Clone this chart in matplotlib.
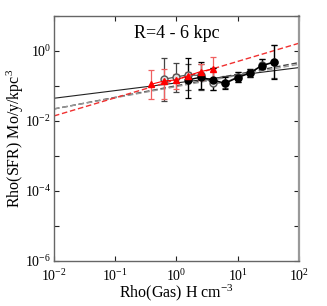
import numpy as np
import matplotlib; matplotlib.use('Agg')
import matplotlib.pyplot as plt

plt.rcParams['font.family'] = ['Liberation Serif', 'DejaVu Serif']
plt.rcParams['mathtext.fontset'] = 'custom'
plt.rcParams['mathtext.rm'] = 'Liberation Serif'
plt.rcParams['mathtext.it'] = 'Liberation Serif:italic'

# red triangles
red_x = [0.39, 0.63, 0.98, 1.52, 2.48, 3.94]
red_y = [0.112, 0.139, 0.148, 0.193, 0.257, 0.306]
red_lo = [0.0425, 0.0434, 0.082, 0.160, 0.148, 0.124]
red_hi = [0.286, 0.300, 0.220, 0.246, 0.425, 0.687]

# open circles
open_x = [0.63, 0.98, 1.52, 2.48, 3.94, 6.27, 9.95, 15.8, 24.9, 39.5]
open_y = [0.155, 0.181, 0.206, 0.200, 0.119, 0.125, 0.180, 0.240, 0.39, 0.49]
open_lo = [0.0373, 0.0687, 0.0769, 0.0769, 0.0769, 0.085, 0.132, 0.180, 0.31, 0.165]
open_hi = [0.618, 0.445, 0.425, 0.425, 0.327, 0.190, 0.250, 0.310, 0.59, 1.50]

# filled circles
fill_x = [1.52, 2.48, 3.94, 6.27, 9.95, 15.8, 24.9, 39.5]
fill_y = [0.148, 0.177, 0.148, 0.119, 0.173, 0.231, 0.38, 0.475]
fill_lo = [0.045, 0.0805, 0.0769, 0.0805, 0.128, 0.177, 0.306, 0.158]
fill_hi = [0.63, 0.475, 0.327, 0.185, 0.246, 0.306, 0.58, 1.48]

# power-law fits: log y = a + b log x
fit_solid = (-0.914, 0.219)
fit_dash1 = (-0.995, 0.331)
fit_dash2 = (-1.018, 0.319)
fit_red = (-0.819, 0.519)

fig = plt.figure(figsize=(3.27, 3.06), dpi=100)
ax = fig.add_axes([0.165, 0.147, 0.749, 0.801])

xx = np.logspace(-2, 2, 50)
ax.plot(xx, 10**(fit_solid[0] + fit_solid[1]*np.log10(xx)), color='#222', lw=0.8)
ax.plot(xx, 10**(fit_dash1[0] + fit_dash1[1]*np.log10(xx)), color='#444', lw=1.0, ls=(0, (4, 2)))
ax.plot(xx, 10**(fit_dash2[0] + fit_dash2[1]*np.log10(xx)), color='#999', lw=1.0, ls=(0, (4, 2)))
ax.plot(xx, 10**(fit_red[0] + fit_red[1]*np.log10(xx)), color='#f03030', lw=1.0, ls=(0, (4, 2)))

def eb(x, y, lo, hi, **kw):
    y = np.array(y); lo = np.array(lo); hi = np.array(hi)
    return ax.errorbar(x, y, yerr=[y-lo, hi-y], capsize=2.5, elinewidth=0.9, capthick=0.9, **kw)

eb(open_x, open_y, open_lo, open_hi, color='#555', marker='o', ms=5, mfc='#ddd', mec='#555', lw=0.9, ecolor='#444')
eb(fill_x, fill_y, fill_lo, fill_hi, color='black', marker='o', ms=5, mfc='black', mec='black', lw=1.0, ecolor='black')
eb(red_x, red_y, red_lo, red_hi, color='red', marker='^', ms=4.5, lw=0.8, ecolor='#f06060')

ax.set_xscale('log'); ax.set_yscale('log')
ax.set_xlim(1e-2, 1e2); ax.set_ylim(1e-6, 1e1)
ax.set_xticks([1e-2, 1e-1, 1e0, 1e1, 1e2])
ax.set_xticklabels([r'$10^{-2}$', r'$10^{-1}$', r'$10^{0}$', r'$10^{1}$', r'$10^{2}$'])
yt = [10.0**k for k in range(-6, 2)]
ax.set_yticks(yt)
ax.set_yticklabels([r'$10^{%d}$' % k if k % 2 == 0 else '' for k in range(-6, 2)])
ax.minorticks_off()
ax.tick_params(direction='in', length=3.5, width=0.8, top=True, right=True, labelsize=10, colors='#222', labelcolor='black')
ax.tick_params(axis='x', pad=5)
ax.tick_params(axis='y', pad=2)
for s in ax.spines.values():
    s.set_color('#666'); s.set_linewidth(1.0)
ax.spines['right'].set_color('#999'); ax.spines['right'].set_linewidth(1.6)

ax.text(0.5, 0.93, 'R=4 - 6 kpc', transform=ax.transAxes, ha='center', va='center', fontsize=13)
ax.set_xlabel(r'Rho(Gas) H cm$^{-3}$', fontsize=11.5, labelpad=-1)
ax.set_ylabel(r'Rho(SFR) Mo/y/kpc$^3$', fontsize=11.5)
ax.yaxis.set_label_coords(-0.115, 0.5)

fig.savefig('out.png', dpi=100)
